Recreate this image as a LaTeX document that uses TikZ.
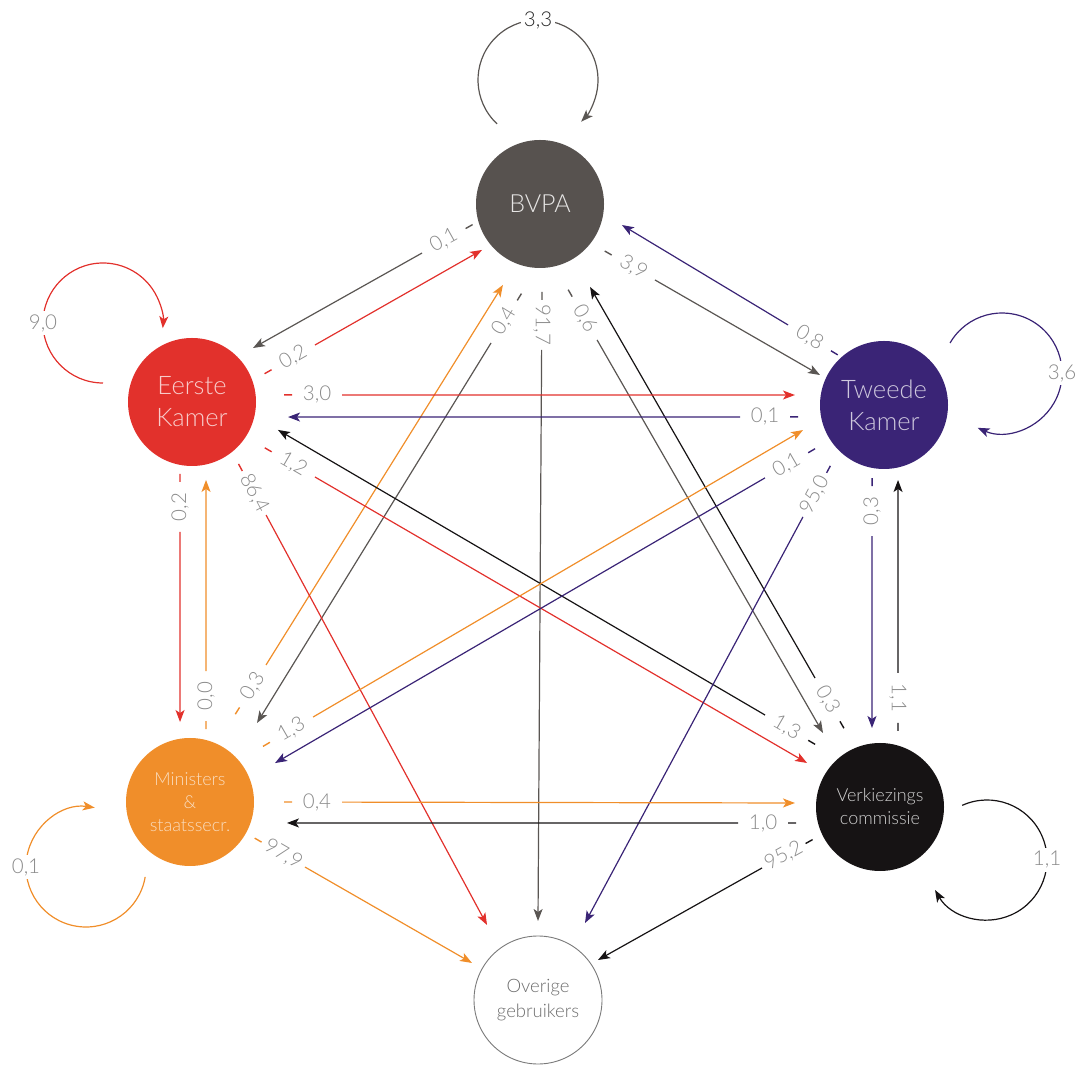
\documentclass[tikz,border=0pt]{standalone}
\usepackage{fontspec}
\setmainfont{Lato Light}
\usetikzlibrary{arrows.meta,calc}
\definecolor{cgray}{HTML}{5A5653}
\definecolor{cbvpa}{HTML}{57524F}
\definecolor{cred}{HTML}{E2312C}
\definecolor{cpurple}{HTML}{3A2476}
\definecolor{corange}{HTML}{F08E2A}
\definecolor{cblack}{HTML}{161314}
\definecolor{clabel}{HTML}{8A8A8A}
\definecolor{covr}{HTML}{7A7A7A}
\newcommand\lnk[9]{%
  \path (#2) ++(#3:#4) coordinate (s) (#5) ++(#6:#7) coordinate (q);
  \draw[tickline,#1] (s) -- ($(s)!8pt!(q)$);
  \node[lbl,rotate=#9] at ($(s)!33pt!(q)$) {#8};
  \draw[lnkline,#1] ($(s)!58pt!(q)$) -- (q);
}
\newcommand\selfloop[7]{%
  \draw[loopline,#1] ($(#2)+(#3)+(#4:60)$) arc[start angle=#4, end angle=#5, radius=60];
  \node[looplbl] at ($(#2)+(#3)+(#6:60)$) {#7};
}
\begin{document}
\begin{tikzpicture}[x=1pt,y=1pt,
  nd/.style={circle, minimum size=128pt, inner sep=0pt, align=center},
  lnkline/.style={line width=1.2pt, -{Stealth[length=12pt,width=9pt,inset=3pt]}},
  tickline/.style={line width=1.4pt},
  lbl/.style={text=clabel, font=\fontsize{20.5}{24}\selectfont, inner sep=0pt},
  loopline/.style={line width=1.2pt, -{Stealth[length=12pt,width=9pt,inset=3pt]}},
  looplbl/.style={lbl, fill=white, inner sep=3pt}
]
\useasboundingbox (0,0) rectangle (1076,1066);

% nodes
\node[nd, fill=cbvpa, text=white!85!cbvpa, font=\fontsize{25}{30}\selectfont] (B) at (540,862) {BVPA};
\node[nd, fill=cred, text=white!75!cred, font=\fontsize{25.5}{32}\selectfont] (E) at (192,664) {Eerste\\Kamer};
\node[nd, fill=cpurple, text=white!75!cpurple, font=\fontsize{25.5}{32}\selectfont] (T) at (884,661) {Tweede\\Kamer};
\node[nd, fill=corange, text=white!70!corange, font=\fontsize{18}{23}\selectfont] (M) at (190,264) {Ministers\\\&\\staatssecr.};
\node[nd, fill=cblack, text=white!80!cblack, font=\fontsize{18}{23}\selectfont] (V) at (880,259) {Verkiezings\\commissie};
\node[nd, draw=covr, line width=0.9pt, fill=white, text=covr!90!black, font=\fontsize{18.5}{25}\selectfont] (O) at (538,66) {Overige\\gebruikers};

% self loops
\draw[loopline,cgray] ($(B)+(-2,124)+(227:60)$) arc[start angle=227, end angle=-44, radius=60];
\node[looplbl, text=black!85] at ($(B)+(-2,124)+(90:60)$) {3,3};
\selfloop{cred}{E}{-89,79}{270}{-5}{180}{9,0}
\selfloop{cpurple}{T}{118,32}{150}{-114}{0}{3,6}
\selfloop{corange}{M}{-104,-65}{-9.5}{-278.4}{180}{0,1}
\selfloop{cblack}{V}{107,-53}{114.4}{-150}{0}{1,1}

% links
\lnk{cgray}{B}{197}{70.5}{E}{41.5}{81.5}{0,1}{29}
\lnk{cred}{E}{21.3}{77.9}{B}{218.4}{74}{0,2}{29.6}
\lnk{cgray}{B}{-36}{80}{T}{154.9}{70.7}{3,9}{-30}
\lnk{cpurple}{T}{132.7}{68.2}{B}{-14.4}{84.6}{0,8}{-31}
\lnk{cgray}{B}{258.3}{91.5}{M}{49.7}{103.6}{0,4}{58.4}
\lnk{corange}{M}{62.7}{98.8}{B}{245.4}{89}{0,3}{58}
\lnk{cgray}{B}{271.3}{88}{O}{90}{79}{91,7}{-90}
\lnk{cgray}{B}{-71.8}{90.2}{V}{127.6}{93.4}{0,6}{-60}
\lnk{cblack}{V}{114.6}{86.6}{B}{-58.9}{96.9}{0,3}{-60}
\lnk{cred}{E}{4.4}{92.3}{T}{173.6}{89.6}{3,0}{0}
\lnk{cpurple}{T}{187.9}{86.8}{E}{-8.9}{97.2}{0,1}{0}
\lnk{cred}{E}{-32.2}{86}{V}{148.9}{85.2}{1,2}{-30}
\lnk{cblack}{V}{136}{90.2}{E}{-18}{90.4}{1,3}{-30}
\lnk{cred}{E}{-53.1}{77.5}{O}{124.2}{90.7}{86,4}{-62}
\lnk{cred}{E}{260.5}{73}{M}{97.1}{80.6}{0,2}{90}
\lnk{cpurple}{T}{212.4}{81.6}{M}{24.6}{93.5}{0,1}{30}
\lnk{corange}{M}{37.3}{91.8}{T}{197.2}{84.8}{1,3}{30}
\lnk{cpurple}{T}{228.6}{81.1}{O}{58.6}{90.2}{95,0}{62}
\lnk{cpurple}{T}{260.7}{74}{V}{95.8}{79.4}{0,3}{90}
\lnk{corange}{M}{77.6}{74.7}{E}{-79.8}{79.2}{0,0}{90}
\lnk{corange}{M}{0}{94}{V}{177.3}{85.1}{0,4}{0}
\lnk{cblack}{V}{190.8}{85.5}{M}{-12.2}{99.2}{1,0}{0}
\lnk{corange}{M}{-29.2}{74.1}{O}{150.7}{75.7}{97,9}{-30}
\lnk{cblack}{V}{205.8}{74.9}{O}{33.7}{72.1}{95,2}{29}
\lnk{cblack}{V}{76.7}{78.1}{T}{-79.4}{76.3}{1,1}{-90}
\end{tikzpicture}
\end{document}
